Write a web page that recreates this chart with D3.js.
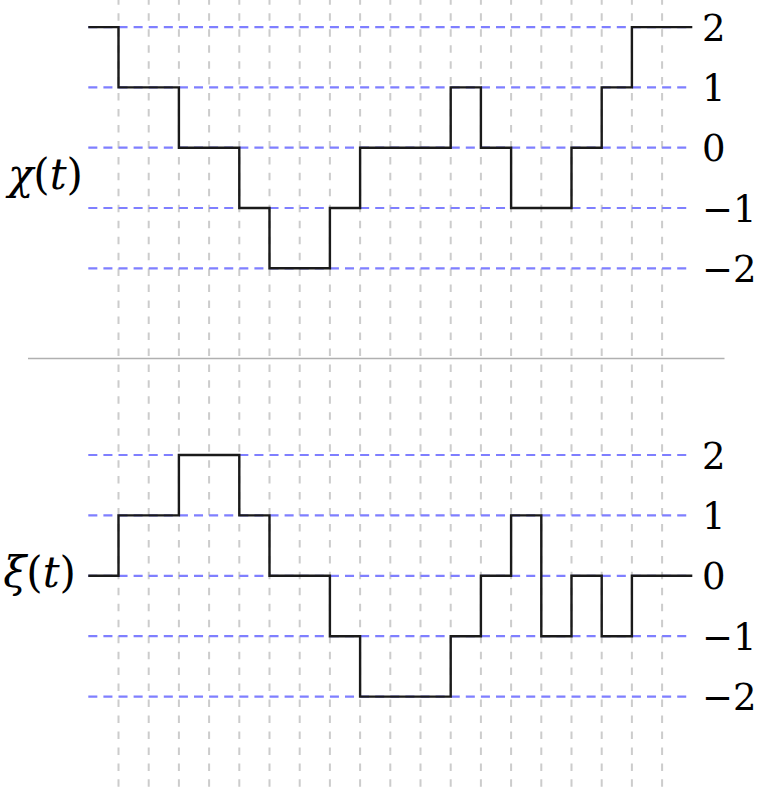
<!DOCTYPE html>
<html>
<head>
<meta charset="utf-8">
<script src="https://cdn.jsdelivr.net/npm/d3@7"></script>
<style>
  html, body { margin: 0; padding: 0; background: #fff; }
  svg { display: block; }
  .serif { font-family: "DejaVu Serif", "Liberation Serif", "Noto Serif", serif; }
</style>
</head>
<body>
<svg id="chart" width="762" height="790"></svg>
<script>
// Piecewise-constant signals, one value per unit interval t = 0..19
const steps = d3.range(0, 20);
const chiValues = [2, 1, 1, 0, 0, -1, -2, -2, -1, 0, 0, 0, 1, 0, -1, -1, 0, 1, 2, 2];
const xiValues  = [0, 1, 1, 2, 2, 1, 0, 0, -1, -2, -2, -2, -1, 0, 1, -1, 0, -1, 0, 0];
const levels = [-2, -1, 0, 1, 2];
const gridTimes = d3.range(1, 20);

const svg = d3.select("#chart");

const x = d3.scaleLinear().domain([0, 20]).range([88.3, 692.3]);

const panels = [
  { label: ["χ", "(", "t", ")"], values: chiValues,
    y: d3.scaleLinear().domain([-2, 2]).range([268.3, 27.1]), labelAt: -0.5, labelX: 83 },
  { label: ["ξ", "(", "t", ")"], values: xiValues,
    y: d3.scaleLinear().domain([-2, 2]).range([696.6, 455.0]), labelAt: 0, labelX: 76 }
];

// vertical time grid across the full height
svg.append("g")
  .selectAll("line")
  .data(gridTimes)
  .join("line")
  .attr("x1", d => x(d)).attr("x2", d => x(d))
  .attr("y1", -2.7).attr("y2", 790)
  .attr("stroke", "#cccccc")
  .attr("stroke-width", 2)
  .attr("stroke-dasharray", "7.5,8.46");

// separator between the two panels
svg.append("line")
  .attr("x1", 28).attr("x2", 724.5)
  .attr("y1", 358.5).attr("y2", 358.5)
  .attr("stroke", "#b0b0b0")
  .attr("stroke-width", 1.6);

const stepLine = d3.line().curve(d3.curveStepAfter);

panels.forEach(p => {
  const g = svg.append("g");

  // level guides
  g.selectAll("line.level")
    .data(levels)
    .join("line")
    .attr("class", "level")
    .attr("x1", x(0)).attr("x2", x(20))
    .attr("y1", d => p.y(d)).attr("y2", d => p.y(d))
    .attr("stroke", "#7f7fff")
    .attr("stroke-width", 2.2)
    .attr("stroke-dasharray", "9.04,6.06");

  // signal
  const pts = steps.map(t => [x(t), p.y(p.values[t])]);
  pts.push([x(20), p.y(p.values[p.values.length - 1])]);
  g.append("path")
    .attr("d", stepLine(pts))
    .attr("fill", "none")
    .attr("stroke", "#1a1a1a")
    .attr("stroke-width", 2.4)
    .attr("stroke-linejoin", "miter");

  // level labels; negative values use a true minus sign
  g.selectAll("text.tick")
    .data(levels)
    .join("text")
    .attr("class", "tick serif")
    .attr("x", 702)
    .attr("y", d => p.y(d) + 13.5)
    .attr("font-size", 37)
    .attr("fill", "#000")
    .text(d => (d < 0 ? "\u2212" + Math.abs(d) : String(d)));

  // signal name
  const name = g.append("text")
    .attr("class", "serif")
    .attr("x", p.labelX)
    .attr("y", p.y(p.labelAt) + 11)
    .attr("text-anchor", "end")
    .attr("font-size", 42)
    .attr("fill", "#000");
  p.label.forEach((s, i) => {
    name.append("tspan")
      .attr("font-style", (i === 0 || i === 2) ? "italic" : "normal")
      .text(s);
  });
});
</script>
</body>
</html>
